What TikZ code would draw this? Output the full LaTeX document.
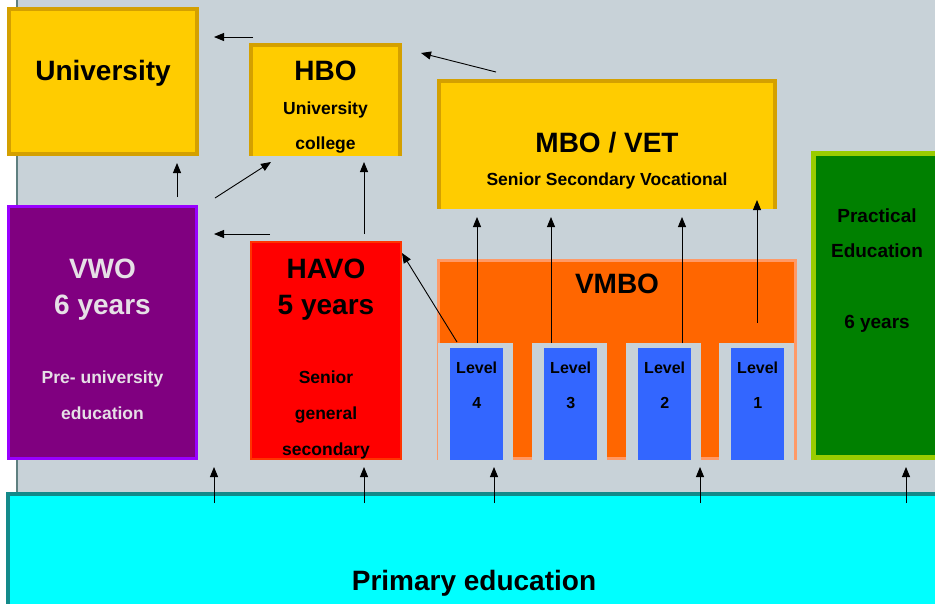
\documentclass[tikz,border=0pt]{standalone}
\usepackage{fontspec}
\setmainfont{Liberation Sans}
\usetikzlibrary{arrows.meta}
\definecolor{bggrey}{HTML}{C8D2D8}
\definecolor{edgegrey}{HTML}{5F8080}
\definecolor{goldfill}{HTML}{FFCC00}
\definecolor{golddark}{HTML}{D4A000}
\definecolor{vwofill}{HTML}{800080}
\definecolor{vwoedge}{HTML}{9900FF}
\definecolor{vwotext}{HTML}{E6E0E6}
\definecolor{havofill}{HTML}{FF0000}
\definecolor{havoedge}{HTML}{FF3300}
\definecolor{vmbofill}{HTML}{FF6600}
\definecolor{vmboedge}{HTML}{FF9966}
\definecolor{lvlblue}{HTML}{3366FF}
\definecolor{pracfill}{HTML}{008000}
\definecolor{pracedge}{HTML}{99CC00}
\definecolor{primfill}{HTML}{00FFFF}
\definecolor{primedge}{HTML}{138A8A}

\begin{document}
\begin{tikzpicture}[x=1pt,y=-1pt,
   box/.style={draw,line width=4pt,inner sep=0pt,outer sep=0pt},
   gold/.style={box,draw=golddark,fill=goldfill},
   heading/.style={anchor=base,font=\fontsize{28}{30}\selectfont\bfseries},
   subtext/.style={anchor=base,font=\fontsize{17.5}{20}\selectfont\bfseries},
   greentext/.style={anchor=base,font=\fontsize{19}{21}\selectfont\bfseries},
   lvltext/.style={anchor=base,font=\fontsize{16}{18}\selectfont\bfseries},
   holder/.style={fill=bggrey,inner sep=0pt,minimum width=75pt,minimum height=117pt,anchor=north west},
   lvlbox/.style={fill=lvlblue,inner sep=0pt,minimum width=53pt,minimum height=112pt,anchor=north west},
   arr/.style={-{Triangle[length=10pt,width=8pt]},line width=0.9pt}]
\useasboundingbox (0,0) rectangle (935,603);
\clip (0,0) rectangle (935,603);
\fill[white] (0,0) rectangle (935,603);
\fill[bggrey] (18,0) rectangle (935,492);
\draw[edgegrey,line width=1.5pt] (17,0) -- (17,492);

% higher education
\node[gold,minimum width=188pt,minimum height=145pt] (univ) at (103,81.5) {};
\node[gold,minimum width=149pt,minimum height=109pt] (hbo) at (325.5,99.5) {};
\node[gold,minimum width=336pt,minimum height=126pt] (mbo) at (607,144) {};
\fill[goldfill] ([xshift=2pt,yshift=-2pt]hbo.south west) rectangle ([xshift=-2pt,yshift=2pt]hbo.south east);
\fill[goldfill] ([xshift=2pt,yshift=-2pt]mbo.south west) rectangle ([xshift=-2pt,yshift=2pt]mbo.south east);
\node[heading] (univ1) at ([yshift=-71pt]univ.north) {University};
\node[heading] (hbo1) at ([yshift=-35pt]hbo.north) {HBO};
\node[subtext] (hbo2) at ([yshift=-69pt]hbo.north) {University};
\node[subtext] (hbo3) at ([yshift=-104pt]hbo.north) {college};
\node[heading] (mbo1) at ([yshift=-71pt]mbo.north) {MBO / VET};
\node[subtext] (mbo2) at ([yshift=-104pt]mbo.north) {Senior Secondary Vocational};
\begin{scope}
  \clip ([yshift=-2pt]mbo.south west) rectangle (mbo.north east);
  \node[subtext] (mbo3) at ([yshift=-142pt]mbo.north) {Education};
\end{scope}

% secondary education
\node[box,line width=3pt,draw=vwoedge,fill=vwofill,minimum width=188pt,minimum height=252pt] (vwo) at (102.5,332.5) {};
\node[heading,text=vwotext] (vwo1) at ([yshift=-71.5pt]vwo.north) {VWO};
\node[heading,text=vwotext] (vwo2) at ([yshift=-107.5pt]vwo.north) {6 years};
\node[subtext,text=vwotext] (vwo3) at ([yshift=-176.5pt]vwo.north) {Pre- university};
\node[subtext,text=vwotext] (vwo4) at ([yshift=-212.5pt]vwo.north) {education};

\node[box,line width=2pt,draw=havoedge,fill=havofill,minimum width=150pt,minimum height=217pt] (havo) at (326,350.5) {};
\node[heading] (havo1) at ([yshift=-36pt]havo.north) {HAVO};
\node[heading] (havo2) at ([yshift=-72pt]havo.north) {5 years};
\node[subtext] (havo3) at ([yshift=-141pt]havo.north) {Senior};
\node[subtext] (havo4) at ([yshift=-177pt]havo.north) {general};
\node[subtext] (havo5) at ([yshift=-213pt]havo.north) {secondary};

\node[box,line width=3pt,draw=vmboedge,fill=vmbofill,minimum width=357pt,minimum height=198pt] (vmbo) at (617,359.5) {};
\node[heading] (vmbo1) at ([yshift=-32.5pt]vmbo.north) {VMBO};

\node[box,line width=5pt,draw=pracedge,fill=pracfill,minimum width=129pt,minimum height=304pt] (prac) at (878,305.5) {};
\node[greentext] (prac1) at ([xshift=-1pt,yshift=-68.5pt]prac.north) {Practical};
\node[greentext] (prac2) at ([xshift=-1pt,yshift=-103.5pt]prac.north) {Education};
\node[greentext] (prac3) at ([xshift=-1pt,yshift=-174.5pt]prac.north) {6 years};

% primary education
\node[box,draw=primedge,fill=primfill,minimum width=935pt,minimum height=119pt] (prim) at (475.5,553.5) {};
\node[heading] (prim1) at ([xshift=-1.5pt,yshift=-96pt]prim.north) {Primary education};

% vmbo levels and their routes to mbo
\foreach \n/\hx/\dx/\dy/\ey in {4/438/39/0/-10, 3/532/19/0/-10, 2/626/56/0/-10, 1/719/38/20/7} {
   \node[holder] (h\n) at (\hx,343) {};
   \node[lvlbox] (l\n) at ([xshift=12pt,yshift=-5pt]h\n.north west) {};
   \node[lvltext] (lt\n) at ([yshift=-25pt]l\n.north) {Level};
   \node[lvltext] (ln\n) at ([yshift=-60pt]l\n.north) {\n};
   \coordinate (s\n) at ([xshift=\dx pt,yshift=\dy pt]h\n.north west);
   \draw[arr] (s\n) -- ([yshift=\ey pt]mbo.south -| s\n);
}

% routes
\draw[arr] ([xshift=74.5pt,yshift=9.5pt]vwo.north) -- ([xshift=74pt,yshift=-9pt]univ.south);
\draw[arr] ([xshift=18.5pt,yshift=8.5pt]vwo.north east) -- ([xshift=20pt,yshift=-8pt]hbo.south west);
\draw[arr] ([xshift=2pt,yshift=8pt]hbo.north west) -- ([xshift=17pt,yshift=-28pt]univ.north east);
\draw[arr] ([xshift=57pt,yshift=9pt]mbo.north west) -- ([xshift=21pt,yshift=-8pt]hbo.north east);
\draw[arr] ([xshift=38pt,yshift=8pt]havo.north) -- ([xshift=38.5pt,yshift=-8pt]hbo.south);
\draw[arr] ([xshift=19pt,yshift=8pt]havo.north west) -- ([xshift=17.5pt,yshift=-27.5pt]vwo.north east);
\draw[arr] ([xshift=19pt,yshift=1pt]h4.north west) -- ([xshift=1pt,yshift=-11pt]havo.north east);
\foreach \x in {214,364,494,700,906}
   \draw[arr] ([yshift=-9pt]\x,0 |- prim.north) -- ([yshift=27pt]\x,0 |- prim.north);
\end{tikzpicture}
\end{document}
